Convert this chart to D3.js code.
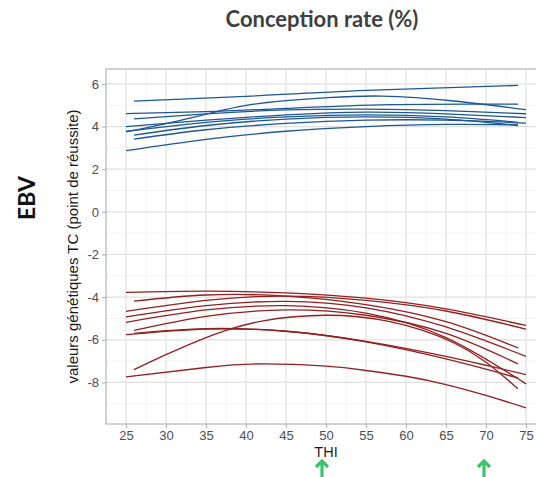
<!DOCTYPE html>
<html>
<head>
<meta charset="utf-8">
<script src="https://cdn.jsdelivr.net/npm/d3@7"></script>
<style>
  body { margin: 0; background: #fff; }
  svg { display: block; }
</style>
</head>
<body>
<div id="chart"></div>
<script>
const xTicks = [25, 30, 35, 40, 45, 50, 55, 60, 65, 70, 75]
const yTicks = [-8, -6, -4, -2, 0, 2, 4, 6]
const arrowThi = [49.5, 69.75]

// EBV curves per THI: [THI, EBV]
const blueCurves = [
    [[26, 5.19], [40, 5.42], [55, 5.7], [74, 5.93]],
    [[25, 3.75], [33, 4.4], [41, 5.05], [50, 5.35], [57, 5.43], [66, 5.2], [75, 4.79]],
    [[25, 4.61], [35, 4.7], [45, 4.85], [58, 5.03], [74, 5.05]],
    [[26, 4.36], [35, 4.6], [45, 4.78], [55, 4.82], [65, 4.75], [75, 4.6]],
    [[25, 4.0], [35, 4.3], [45, 4.55], [55, 4.68], [65, 4.6], [75, 4.42]],
    [[25, 3.78], [35, 4.2], [45, 4.45], [55, 4.55], [65, 4.45], [74, 4.2]],
    [[26, 3.6], [35, 4.05], [45, 4.35], [55, 4.45], [65, 4.35], [74, 4.05]],
    [[26, 3.41], [35, 3.85], [45, 4.15], [55, 4.3], [65, 4.3], [75, 4.16]],
    [[25, 2.87], [35, 3.4], [45, 3.78], [55, 4.0], [65, 4.1], [74, 4.08]]
]

const redCurves = [
    [[25, -3.78], [35, -3.72], [45, -3.8], [55, -4.05], [65, -4.55], [75, -5.33]],
    [[25, -4.67], [35, -4.15], [45, -3.95], [55, -4.15], [65, -4.65], [75, -5.5]],
    [[26, -4.19], [35, -3.9], [45, -3.95], [55, -4.35], [65, -5.15], [74, -6.38]],
    [[25, -4.93], [35, -4.4], [45, -4.2], [55, -4.5], [65, -5.4], [75, -6.78]],
    [[25, -5.18], [35, -4.6], [45, -4.4], [55, -4.75], [65, -5.9], [75, -8.07]],
    [[26, -5.56], [35, -4.9], [45, -4.6], [55, -4.85], [65, -5.7], [74, -7.13]],
    [[26, -7.4], [30, -6.7], [34, -6.05], [38, -5.5], [42, -5.12], [46, -4.92], [50, -4.85],
        [54, -4.92], [58, -5.15], [62, -5.55], [66, -6.15], [70, -7.05], [74, -8.3]],
    [[25, -5.76], [35, -5.5], [45, -5.6], [55, -6.07], [65, -6.78], [75, -7.63]],
    [[26, -5.7], [35, -5.48], [45, -5.6], [55, -6.1], [65, -6.9], [74, -7.79]],
    [[25, -7.74], [35, -7.3], [42, -7.13], [50, -7.24], [55, -7.44], [60, -7.71], [65, -8.1], [70, -8.61], [75, -9.19]]
]

const width = 536, height = 477
const panel = {left: 106, right: 546, top: 69, bottom: 424}

const svg = d3.select("#chart")
    .append("svg")
        .attr("width", width)
        .attr("height", height)

const x = d3.scaleLinear()
    .domain([22.5, 77.5])
    .range([panel.left, panel.right])

const y = d3.scaleLinear()
    .domain([-9.95, 6.7])
    .range([panel.bottom, panel.top])

const minorX = xTicks.slice(0, -1).map(d => d + 2.5)
const minorY = yTicks.map(d => d - 1).concat([7]).filter(d => d > -9.95 && d < 6.7)

const grid = svg.append("g")

grid.selectAll(".minx").data(minorX).enter().append("line")
    .attr("x1", d => x(d)).attr("x2", d => x(d))
    .attr("y1", panel.top).attr("y2", panel.bottom)
    .attr("stroke", "#efefef").attr("stroke-width", 0.8)

grid.selectAll(".miny").data(minorY).enter().append("line")
    .attr("x1", panel.left).attr("x2", panel.right)
    .attr("y1", d => y(d)).attr("y2", d => y(d))
    .attr("stroke", "#efefef").attr("stroke-width", 0.8)

grid.selectAll(".majx").data(xTicks).enter().append("line")
    .attr("x1", d => x(d)).attr("x2", d => x(d))
    .attr("y1", panel.top).attr("y2", panel.bottom)
    .attr("stroke", "#e0e0e0").attr("stroke-width", 1.2)

grid.selectAll(".majy").data(yTicks).enter().append("line")
    .attr("x1", panel.left).attr("x2", panel.right)
    .attr("y1", d => y(d)).attr("y2", d => y(d))
    .attr("stroke", "#e0e0e0").attr("stroke-width", 1.2)

const line = d3.line()
    .x(d => x(d[0]))
    .y(d => y(d[1]))
    .curve(d3.curveNatural)

svg.append("g").selectAll("path")
    .data(blueCurves)
    .enter()
    .append("path")
        .attr("d", line)
        .attr("fill", "none")
        .attr("stroke", "#1d5794")
        .attr("stroke-width", 1.3)

svg.append("g").selectAll("path")
    .data(redCurves)
    .enter()
    .append("path")
        .attr("d", line)
        .attr("fill", "none")
        .attr("stroke", "#931f1f")
        .attr("stroke-width", 1.3)

svg.append("rect")
    .attr("x", panel.left)
    .attr("y", panel.top)
    .attr("width", panel.right - panel.left)
    .attr("height", panel.bottom - panel.top)
    .attr("fill", "none")
    .attr("stroke", "#b3b3b3")
    .attr("stroke-width", 1.2)

const xAxis = svg.append("g")
    .attr("transform", "translate(0," + panel.bottom + ")")
    .call(d3.axisBottom(x).tickValues(xTicks).tickSize(4).tickPadding(3).tickFormat(d => String(d)))

const yAxis = svg.append("g")
    .attr("transform", "translate(" + panel.left + ",0)")
    .call(d3.axisLeft(y).tickValues(yTicks).tickSize(4).tickPadding(3).tickFormat(d => String(d)))

svg.selectAll(".domain").remove()
svg.selectAll(".tick line").attr("stroke", "#b3b3b3").attr("stroke-width", 1.1)
svg.selectAll(".tick text")
    .attr("fill", "#4d4d4d")
    .style("font-family", "'Liberation Sans', Arial, sans-serif")
    .style("font-size", "13px")

svg.append("text")
    .attr("x", (panel.left + panel.right) / 2)
    .attr("y", 457)
    .attr("text-anchor", "middle")
    .style("font-family", "'Liberation Sans', Arial, sans-serif")
    .style("font-size", "14.5px")
    .attr("fill", "#1a1a1a")
    .text("THI")

svg.append("text")
    .attr("transform", "translate(78," + (panel.top + panel.bottom) / 2 + ") rotate(-90)")
    .attr("text-anchor", "middle")
    .style("font-family", "'Liberation Sans', Arial, sans-serif")
    .style("font-size", "15px")
    .attr("fill", "#1a1a1a")
    .text("valeurs génétiques TC (point de réussite)")

svg.append("text")
    .attr("transform", "translate(35,198) rotate(-90)")
    .attr("text-anchor", "middle")
    .style("font-family", "Lato, 'Open Sans', sans-serif")
    .style("font-weight", "bold")
    .style("font-size", "23px")
    .attr("fill", "#111")
    .text("EBV")

svg.append("text")
    .attr("x", 322)
    .attr("y", 27)
    .attr("text-anchor", "middle")
    .style("font-family", "Lato, 'Open Sans', sans-serif")
    .style("font-weight", "bold")
    .style("font-size", "22px")
    .attr("fill", "#404040")
    .text("Conception rate (%)")

// green arrows under the THI axis
const arrows = svg.append("g").selectAll("g")
    .data(arrowThi)
    .enter()
    .append("g")
        .attr("transform", d => "translate(" + x(d) + ",460)")

arrows.append("path")
    .attr("d", "M0,1 L0,20 M-6,7 L0,1 L6,7")
    .attr("fill", "none")
    .attr("stroke", "#3cc46c")
    .attr("stroke-width", 3.2)
    .attr("stroke-linecap", "butt")
    .attr("stroke-linejoin", "miter")
</script>
</body>
</html>
